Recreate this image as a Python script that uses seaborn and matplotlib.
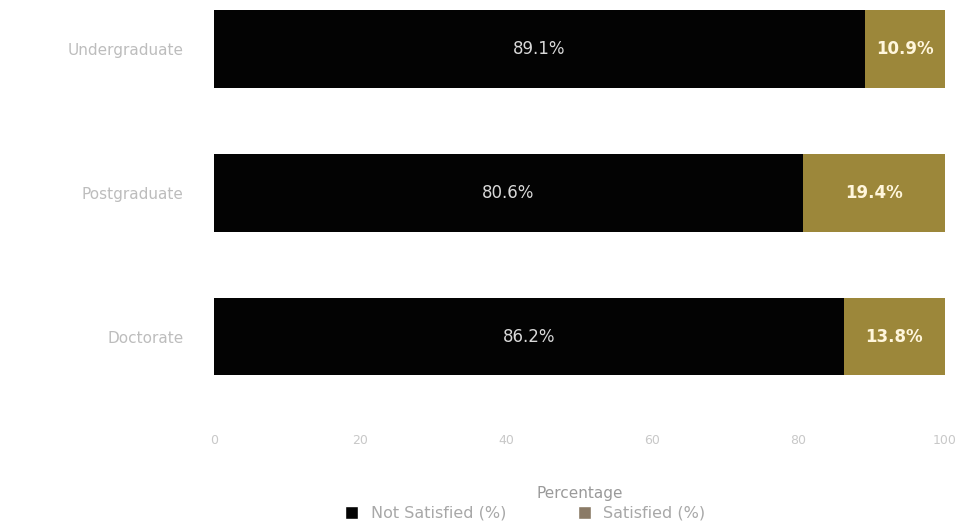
import matplotlib
matplotlib.use("Agg")
import matplotlib.pyplot as plt
import seaborn as sns
import pandas as pd
from matplotlib.patches import Patch

categories = ["Undergraduate", "Postgraduate", "Doctorate"]
black_vals = [89.1, 80.6, 86.2]
gold_vals = [10.9, 19.4, 13.8]
x_ticks = [0, 20, 40, 60, 80, 100]
legend_labels = ["Not Satisfied (%)", "Satisfied (%)"]

BLACK = "#030303"
GOLD = "#9c873a"

sns.set_theme(style="white")
plt.rcParams['font.family'] = ['DejaVu Sans']

df = pd.DataFrame({"cat": categories, "black": black_vals, "gold": gold_vals})
df["total"] = df["black"] + df["gold"]

fig = plt.figure(figsize=(9.64, 5.29), dpi=100)
ax = fig.add_axes([0.222, 0.206, 0.758, 0.794])

sns.barplot(data=df, y="cat", x="total", color=GOLD, width=0.54, ax=ax,
            saturation=1, orient="h", linewidth=0)
sns.barplot(data=df, y="cat", x="black", color=BLACK, width=0.54, ax=ax,
            saturation=1, orient="h", linewidth=0)

for i, (b, g) in enumerate(zip(black_vals, gold_vals)):
    ax.text(b / 2, i, f"{b}%", ha="center", va="center", color="#d9d9d9",
            fontsize=12)
    ax.text(b + g / 2, i, f"{g}%", ha="center", va="center", color="#fff6dc",
            fontsize=12, fontweight="bold")

ax.set_xlim(0, 100)
ax.set_ylim(2.58, -0.34)
ax.set_xticks(x_ticks)
ax.set_xticklabels([str(t) for t in x_ticks], color="#c8c8c8", fontsize=9)
ax.tick_params(axis="y", labelcolor="#bdbdbd", labelsize=11, length=0, pad=22)
ax.tick_params(axis="x", length=0, pad=10)
ax.set_ylabel("")
ax.set_xlabel("Percentage", color="#9a9a9a", fontsize=11, labelpad=28)
for s in ax.spines.values():
    s.set_visible(False)

handles = [Patch(facecolor=BLACK, label=legend_labels[0]),
           Patch(facecolor="#8a7a66", label=legend_labels[1])]
leg = fig.legend(handles=handles, loc="lower center", ncol=2, frameon=False,
                 bbox_to_anchor=(0.545, -0.012), fontsize=11.5,
                 handlelength=0.8, handleheight=0.8, columnspacing=4.5)
for t in leg.get_texts():
    t.set_color("#a8a8a8")

fig.savefig("out.png", dpi=100)
